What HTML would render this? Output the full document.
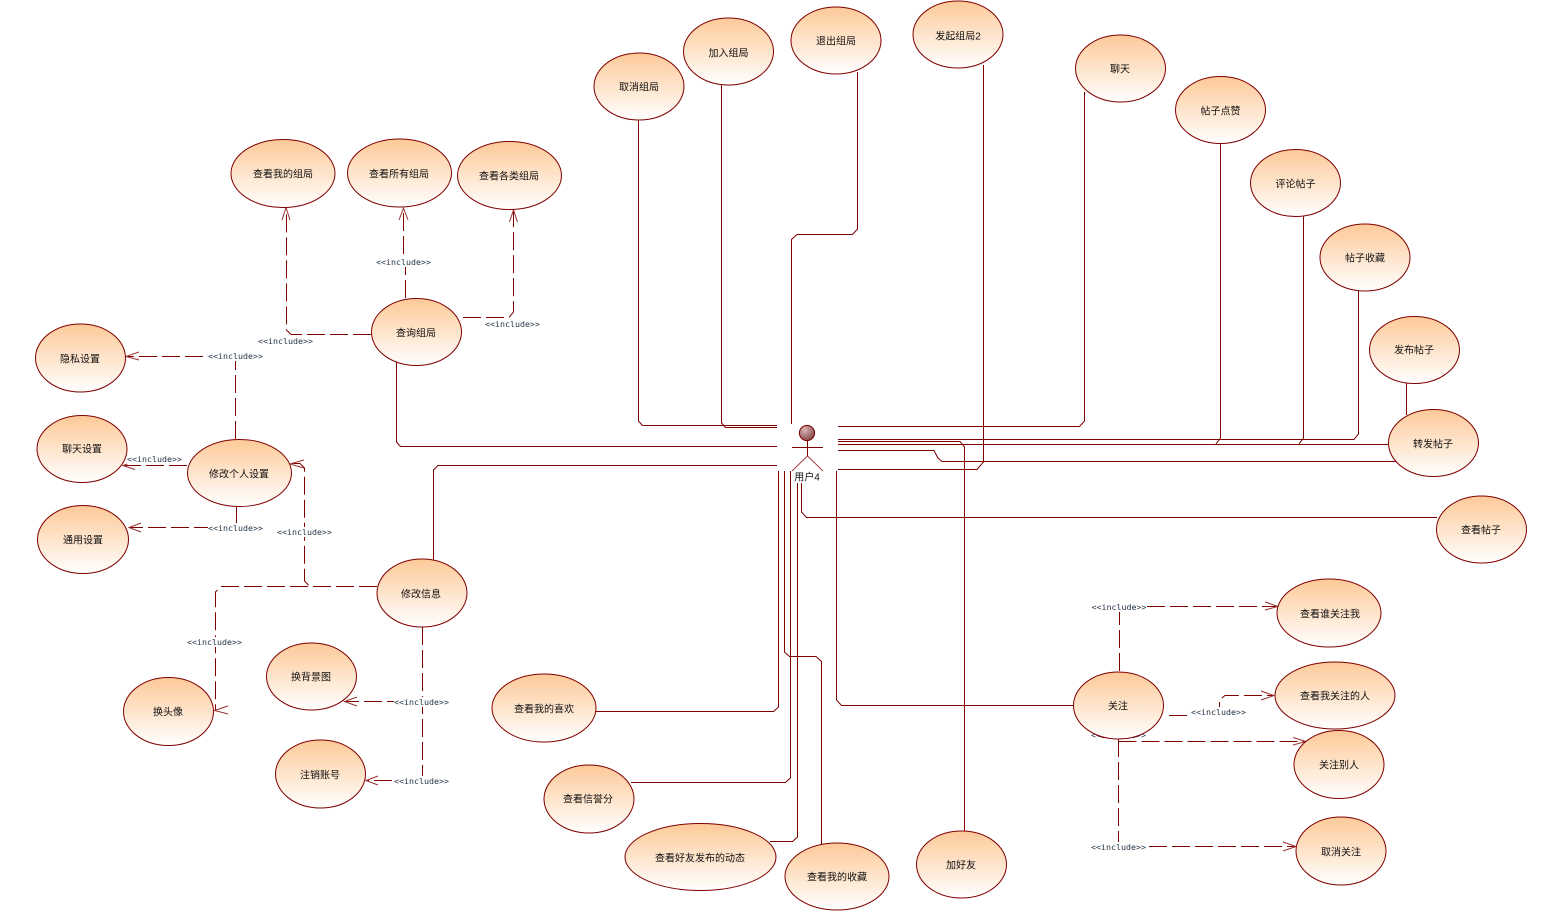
<!DOCTYPE html>
<html><head><meta charset="utf-8"><style>
html,body{margin:0;padding:0;background:#fff;width:1546px;height:917px;overflow:hidden}
svg{display:block}
.s{fill:none;stroke:#800000;stroke-width:1}
.d{fill:none;stroke:#800000;stroke-width:1;stroke-dasharray:18 5}
.a{fill:none;stroke:#9a3030;stroke-width:1}
.u{fill:url(#g);stroke:#800000;stroke-width:1}
.t{font:10px "Liberation Sans","Noto Sans CJK SC",sans-serif;fill:#111;text-anchor:middle;dominant-baseline:central;transform:translateY(2px)}
.i{font:8.3px "DejaVu Sans Mono",monospace;fill:#234;text-anchor:middle;dominant-baseline:central}
</style></head><body>
<svg width="1546" height="917" viewBox="0 0 1546 917" xmlns="http://www.w3.org/2000/svg">
<defs>
<linearGradient id="g" x1="0" y1="0" x2="0" y2="1"><stop offset="0" stop-color="#fdc998"/><stop offset="1" stop-color="#fff"/></linearGradient>
<radialGradient id="h" cx="0.35" cy="0.3" r="0.8"><stop offset="0" stop-color="#d9b5b5"/><stop offset="1" stop-color="#7f3f3f"/></radialGradient>
</defs>

<!-- solid associations -->
<path class="s" d="M638.5 120V421L642.5 425.5H777"/>
<path class="s" d="M721.5 85V423L725.5 427.5H777"/>
<path class="s" d="M857.5 72V229L852.5 234.5H797L791.5 239.5V424"/>
<path class="s" d="M983.5 65V462L977 469.5H838"/>
<path class="s" d="M1084.5 92V421L1079.5 426.5H838"/>
<path class="s" d="M1220.5 143V438L1216 444"/>
<path class="s" d="M1303.5 216V438L1299 444"/>
<path class="s" d="M1358.5 291V434L1354 439.5H838"/>
<path class="s" d="M838 444.5H1390"/>
<path class="s" d="M838 441.5H960L964.5 447V831"/>
<path class="s" d="M838 450.5H934L938 458L942 461.5H1396"/>
<path class="s" d="M1406.5 383V415"/>
<path class="s" d="M801.5 483V512L806.5 517.5H1437"/>
<path class="s" d="M396.5 362V442L400.5 446.5H777"/>
<path class="s" d="M433.5 560V470L438 465.5H777"/>
<path class="s" d="M778.5 471V707L773.5 711.5H596"/>
<path class="s" d="M784.5 471V652L789.5 656.5H816L821.5 661.5V846"/>
<path class="s" d="M790.5 471V778L785.5 782.5H631"/>
<path class="s" d="M797.5 483V837L792.5 841.5H770"/>
<path class="s" d="M836.5 471V700L841.5 705.5H1074"/>

<!-- dashed includes -->
<path class="d" d="M371 334.5H291L286.5 330V208"/>
<path class="a" d="M282 220L286 207.5L290 220"/>
<path class="d" d="M405.5 298V262H403.5V208"/>
<path class="a" d="M399 220L403.5 208L408 220"/>
<path class="d" d="M463 317.5H509L513.5 312V210"/>
<path class="a" d="M509.5 222L513.5 210L517.5 222"/>
<path class="d" d="M235.5 439V356.5H126"/>
<path class="a" d="M139 352L126 356.5L139 360"/>
<path class="d" d="M187 465.5H123"/>
<path class="a" d="M135 461L123 465.5L135 469.5"/>
<path class="d" d="M236.5 506V527.5H129"/>
<path class="a" d="M141 523L129 527.5L141 532"/>
<path class="d" d="M377 586.5H310L304.5 581V468L300 463.5H290"/>
<path class="a" d="M304 460L290 464L304 468"/>
<path class="d" d="M377 586.5H221L215.5 592V710"/>
<path class="a" d="M228 706L214.5 710.5L228 714"/>
<path class="d" d="M422.5 627V701.5H345"/>
<path class="a" d="M357 697L344.5 701.5L357 706"/>
<path class="d" d="M422.5 627V780.5H366"/>
<path class="a" d="M378 776L366 780.5L378 785"/>
<path class="d" d="M1119.5 671V606.5H1278"/>
<path class="a" d="M1265 602L1278 606.5L1265 610"/>
<path class="d" d="M1169 715.5H1219.5V700L1225 695.5H1274"/>
<path class="a" d="M1261 691L1274 695.5L1261 700"/>
<path class="d" d="M1118.5 741.5H1306"/>
<path class="a" d="M1293 737.5L1306 741.5L1293 745"/>
<path class="d" d="M1118.5 739V846.5H1296"/>
<path class="a" d="M1283 842L1296 846.5L1283 851"/>

<!-- include labels -->
<g fill="#fff">
<rect x="376" y="257" width="55" height="10"/><rect x="258" y="336" width="55" height="10"/>
<rect x="485" y="319" width="55" height="10"/><rect x="208" y="351" width="55" height="10"/>
<rect x="127" y="454" width="55" height="10"/><rect x="208" y="523" width="55" height="10"/>
<rect x="277" y="527" width="55" height="10"/><rect x="187" y="637" width="55" height="10"/>
<rect x="394" y="697" width="55" height="10"/><rect x="394" y="776" width="55" height="10"/>
<rect x="1092" y="602" width="55" height="10"/><rect x="1191" y="707" width="55" height="10"/>
<rect x="1091" y="842" width="55" height="10"/>
</g>
<text class="i" x="403.5" y="262">&lt;&lt;include&gt;&gt;</text>
<text class="i" x="285.5" y="341">&lt;&lt;include&gt;&gt;</text>
<text class="i" x="512.5" y="324">&lt;&lt;include&gt;&gt;</text>
<text class="i" x="235.5" y="356">&lt;&lt;include&gt;&gt;</text>
<text class="i" x="154.5" y="459">&lt;&lt;include&gt;&gt;</text>
<text class="i" x="235.5" y="528">&lt;&lt;include&gt;&gt;</text>
<text class="i" x="304.5" y="532">&lt;&lt;include&gt;&gt;</text>
<text class="i" x="214.5" y="642">&lt;&lt;include&gt;&gt;</text>
<text class="i" x="421.5" y="702">&lt;&lt;include&gt;&gt;</text>
<text class="i" x="421.5" y="781">&lt;&lt;include&gt;&gt;</text>
<text class="i" x="1119" y="607">&lt;&lt;include&gt;&gt;</text>
<text class="i" x="1218.5" y="712">&lt;&lt;include&gt;&gt;</text>
<text class="i" x="1118.5" y="735">&lt;&lt;include&gt;&gt;</text>
<text class="i" x="1118.5" y="847">&lt;&lt;include&gt;&gt;</text>

<!-- use cases -->
<ellipse class="u" cx="639" cy="86.5" rx="45" ry="33.5"/><text class="t" x="639" y="86">取消组局</text>
<ellipse class="u" cx="728.5" cy="51.5" rx="45" ry="33.5"/><text class="t" x="728.5" y="52">加入组局</text>
<ellipse class="u" cx="836" cy="40.5" rx="45" ry="33.5"/><text class="t" x="836" y="40">退出组局</text>
<ellipse class="u" cx="958" cy="34.5" rx="45" ry="33.5"/><text class="t" x="958" y="35">发起组局2</text>
<ellipse class="u" cx="1120.5" cy="68.5" rx="45" ry="33.5"/><text class="t" x="1120" y="68">聊天</text>
<ellipse class="u" cx="1220.5" cy="110" rx="45" ry="33.5"/><text class="t" x="1220.5" y="110">帖子点赞</text>
<ellipse class="u" cx="1295.5" cy="183" rx="45" ry="33.5"/><text class="t" x="1295.5" y="183">评论帖子</text>
<ellipse class="u" cx="1365" cy="257.5" rx="45" ry="33.5"/><text class="t" x="1365" y="257">帖子收藏</text>
<ellipse class="u" cx="1414.5" cy="350" rx="45" ry="33.5"/><text class="t" x="1414" y="349">发布帖子</text>
<ellipse class="u" cx="1433.5" cy="443" rx="45" ry="33.5"/><text class="t" x="1433" y="443">转发帖子</text>
<ellipse class="u" cx="1481.5" cy="529.5" rx="45" ry="33.5"/><text class="t" x="1481" y="529">查看帖子</text>
<ellipse class="u" cx="283" cy="173.5" rx="52" ry="34"/><text class="t" x="283" y="173">查看我的组局</text>
<ellipse class="u" cx="399.5" cy="173" rx="52" ry="34"/><text class="t" x="399" y="173">查看所有组局</text>
<ellipse class="u" cx="509.5" cy="175.5" rx="52" ry="34"/><text class="t" x="509" y="175">查看各类组局</text>
<ellipse class="u" cx="416.5" cy="332" rx="45" ry="33.5"/><text class="t" x="416" y="332">查询组局</text>
<ellipse class="u" cx="80.5" cy="358" rx="45" ry="34"/><text class="t" x="80" y="358">隐私设置</text>
<ellipse class="u" cx="82" cy="449" rx="45" ry="33.5"/><text class="t" x="82" y="448">聊天设置</text>
<ellipse class="u" cx="83" cy="539.5" rx="45.5" ry="34"/><text class="t" x="83" y="539">通用设置</text>
<ellipse class="u" cx="239.5" cy="473" rx="52" ry="33.5"/><text class="t" x="239" y="473">修改个人设置</text>
<ellipse class="u" cx="422" cy="593" rx="45" ry="34"/><text class="t" x="421" y="593">修改信息</text>
<ellipse class="u" cx="168.5" cy="711.5" rx="45" ry="34"/><text class="t" x="168" y="711">换头像</text>
<ellipse class="u" cx="311.5" cy="676.5" rx="45" ry="33.5"/><text class="t" x="311" y="676">换背景图</text>
<ellipse class="u" cx="320.5" cy="774" rx="45" ry="34"/><text class="t" x="320" y="774">注销账号</text>
<ellipse class="u" cx="544" cy="708" rx="52" ry="34"/><text class="t" x="544" y="708">查看我的喜欢</text>
<ellipse class="u" cx="589" cy="799" rx="45" ry="34"/><text class="t" x="588" y="798">查看信誉分</text>
<ellipse class="u" cx="700.5" cy="857" rx="75.5" ry="33.5"/><text class="t" x="700" y="857">查看好友发布的动态</text>
<ellipse class="u" cx="837" cy="876.5" rx="52" ry="33.5"/><text class="t" x="837" y="876">查看我的收藏</text>
<ellipse class="u" cx="961.5" cy="864.5" rx="45" ry="33.5"/><text class="t" x="961" y="864">加好友</text>
<ellipse class="u" cx="1118.5" cy="705.5" rx="45" ry="33.5"/><text class="t" x="1118" y="705">关注</text>
<ellipse class="u" cx="1329" cy="613" rx="52" ry="34"/><text class="t" x="1330" y="613">查看谁关注我</text>
<ellipse class="u" cx="1335" cy="695.5" rx="60" ry="33.5"/><text class="t" x="1335" y="695">查看我关注的人</text>
<ellipse class="u" cx="1339" cy="764.5" rx="45" ry="34"/><text class="t" x="1339" y="764">关注别人</text>
<ellipse class="u" cx="1341" cy="851" rx="45" ry="34"/><text class="t" x="1341" y="851">取消关注</text>

<!-- actor -->
<circle cx="807" cy="433" r="7.6" fill="url(#h)" stroke="#800000" stroke-width="1"/>
<path class="s" d="M807.5 441V456M792 447.5H823"/>
<path fill="none" stroke="#a84040" stroke-width="1" d="M792 471L807.5 456L823 471"/>
<text class="t" x="807" y="476">用户4</text>
</svg>
</body></html>
